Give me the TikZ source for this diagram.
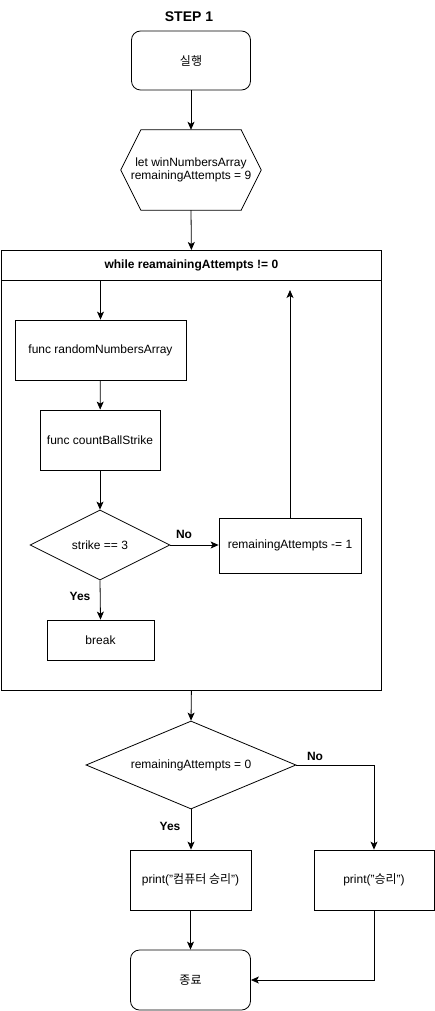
\documentclass[tikz,border=0pt]{standalone}
\usepackage{fontspec}
\setmainfont{Liberation Sans}
\newfontfamily\kr{Noto Sans CJK KR}
\usetikzlibrary{shapes.geometric,arrows.meta}
\begin{document}
\begin{tikzpicture}[x=1pt,y=-1pt,
  every node/.style={font=\fontsize{12}{14}\selectfont},
  box/.style={draw, line width=0.8pt, inner sep=0pt},
  rbox/.style={box, rounded corners=9pt},
  dia/.style={draw, line width=0.8pt, diamond, inner sep=0pt},
  lbl/.style={font=\fontsize{12}{14}\selectfont\bfseries},
  arr/.style={draw, line width=0.8pt, -{Stealth[length=8pt,width=7pt,inset=2pt]}},
  ln/.style={draw, line width=0.8pt}]
\useasboundingbox (0,0) rectangle (435,1011);
\node[font=\fontsize{14}{16}\selectfont\bfseries] (title) at (189,17) {STEP 1};
\node[rbox, minimum width=119pt, minimum height=59pt] (run) at (191,60.5) {\kr 실행};
\node[minimum width=140pt, minimum height=80pt, inner sep=0pt, align=center] (hex) at (191,170) {let winNumbersArray\\[-1pt]remainingAttempts = 9};
\draw[line width=0.8pt] (hex.west) -- ([xshift=20pt]hex.north west) -- ([xshift=-20pt]hex.north east) -- (hex.east) -- ([xshift=-20pt]hex.south east) -- ([xshift=20pt]hex.south west) -- cycle;
\node[box, minimum width=380pt, minimum height=440pt, anchor=north west] (loop) at (1,250) {};
\node[box, minimum width=380pt, minimum height=30pt, anchor=north west, lbl] (hdr) at (1,250) {while reamainingAttempts != 0};
\node[box, minimum width=171pt, minimum height=60pt] (rand) at (100.5,350) {func randomNumbersArray};
\node[box, minimum width=120pt, minimum height=60pt] (count) at (100,440) {func countBallStrike};
\node[dia, aspect=2, minimum width=140pt, minimum height=70pt] (strike) at (100,545) {strike == 3};
\node[box, minimum width=142pt, minimum height=55pt] (dec) at (290,545.5) {remainingAttempts -= 1};
\node[box, minimum width=107pt, minimum height=40pt] (brk) at (100.5,640) {break};
\coordinate (upend) at (290,290);
\node[dia, aspect=2.39, minimum width=210pt, minimum height=88pt] (cond) at (191,765) {remainingAttempts = 0};
\node[box, minimum width=121pt, minimum height=60pt] (lose) at (190.5,880) {print("{\kr 컴퓨터 승리}")};
\node[box, minimum width=120pt, minimum height=60pt] (win) at (374,880) {print("{\kr 승리}")};
\node[rbox, minimum width=120pt, minimum height=60pt] (end) at (190.5,980) {\kr 종료};
\node[lbl] (no1) at (184,534) {No};
\node[lbl] (yes1) at (80,596) {Yes};
\node[lbl] (no2) at (315,756) {No};
\node[lbl] (yes2) at (170,826) {Yes};
\draw[arr] (run) -- (hex.north);
\draw[arr] (hex.south) -- (loop.north);
\draw[arr] (rand.north |- hdr.south) -- (rand.north);
\draw[arr] (rand) -- (count);
\draw[arr] (count) -- (strike.north);
\draw[arr] (strike.east) -- (dec.west |- strike.east);
\draw[arr] (dec.north) -- (upend);
\draw[arr] (strike.south) -- (brk.north);
\draw[arr] (loop.south) -- (cond.north);
\draw[arr] (cond.south) -- (lose.north -| cond.south);
\draw[arr] (cond.east) -| (win.north);
\draw[arr] (lose) -- (end);
\draw[arr] (win.south) |- (end.east);
\end{tikzpicture}
\end{document}
